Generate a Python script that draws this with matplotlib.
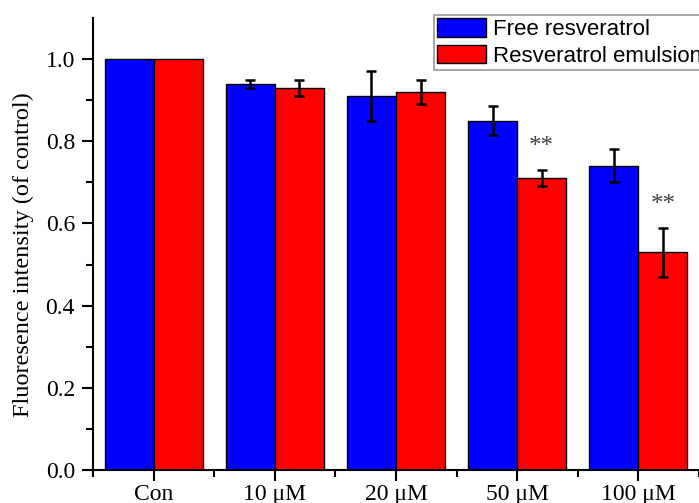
import matplotlib
matplotlib.use("Agg")
import matplotlib.pyplot as plt
import numpy as np
from matplotlib.ticker import FixedLocator

categories = ["Con", "10 \u03bcM", "20 \u03bcM", "50 \u03bcM", "100 \u03bcM"]
free_vals = [1.00, 0.94, 0.91, 0.85, 0.74]
free_err = [0.0, 0.01, 0.06, 0.035, 0.04]
emul_vals = [1.00, 0.93, 0.92, 0.71, 0.53]
emul_err = [0.0, 0.02, 0.03, 0.02, 0.06]
sig_labels = ["", "", "", "**", "**"]

fig = plt.figure(figsize=(6.99, 5.03), dpi=100)
ax = fig.add_axes([93/699, 33/503, 1 - 93/699, 452/503])

x = np.arange(len(categories))
w = 0.405
ax.bar(x - w/2, free_vals, w, color="#0000ff", edgecolor="black", linewidth=1.0,
       label="Free resveratrol", zorder=2)
ax.bar(x + w/2, emul_vals, w, color="#ff0000", edgecolor="black", linewidth=1.0,
       label="Resveratrol emulsion", zorder=2)
for xi, v, e in zip(x - w/2, free_vals, free_err):
    if e > 0:
        ax.errorbar(xi, v, yerr=e, fmt="none", ecolor="black", elinewidth=1.8,
                    capsize=3.8, capthick=1.8, zorder=3)
for xi, v, e, s in zip(x + w/2, emul_vals, emul_err, sig_labels):
    if e > 0:
        ax.errorbar(xi, v, yerr=e, fmt="none", ecolor="black", elinewidth=1.8,
                    capsize=3.8, capthick=1.8, zorder=3)
    if s:
        ax.text(xi, v + e + 0.055, s, ha="center", va="center", fontsize=18,
                color="#404040", family="Liberation Serif")

ax.set_xlim(-0.5, 4.5)
ax.set_ylim(0, 1.1)
ax.spines["top"].set_visible(False)
ax.spines["right"].set_visible(False)
ax.spines["left"].set_linewidth(1.5)
ax.spines["bottom"].set_linewidth(1.5)

ax.set_xticks(x)
ax.set_xticklabels(categories, family="Liberation Serif", fontsize=17)
ax.xaxis.set_minor_locator(FixedLocator(np.arange(-0.5, 4.6, 1.0)))
ax.set_yticks(np.arange(0, 1.01, 0.2))
ax.set_yticklabels([f"{t:.1f}" for t in np.arange(0, 1.01, 0.2)],
                   family="Liberation Serif", fontsize=17)
ax.yaxis.set_minor_locator(FixedLocator(np.arange(0.1, 1.0, 0.2)))
ax.tick_params(which="major", direction="out", length=8, width=1.5)
ax.tick_params(axis="y", which="major", pad=5)
ax.tick_params(axis="x", which="major", pad=2)
ax.tick_params(which="minor", direction="out", length=5, width=1.5)

ax.set_ylabel("Fluoresence intensity (of control)", family="Liberation Serif",
              fontsize=17.5, va="center")
ax.yaxis.set_label_coords(23/699, (503 - 255) / 503, transform=fig.transFigure)

leg = ax.legend(loc="upper left", bbox_to_anchor=(434/699, 1 - 15/503),
                bbox_transform=fig.transFigure, prop={"family": "Liberation Sans", "size": 16},
                frameon=True, fancybox=False, edgecolor="#808080", borderpad=0.15,
                handlelength=2.2, handleheight=0.9, handletextpad=0.3,
                labelspacing=0.2, borderaxespad=0)
leg.get_frame().set_linewidth(1.2)

fig.savefig("out.png", dpi=100)
